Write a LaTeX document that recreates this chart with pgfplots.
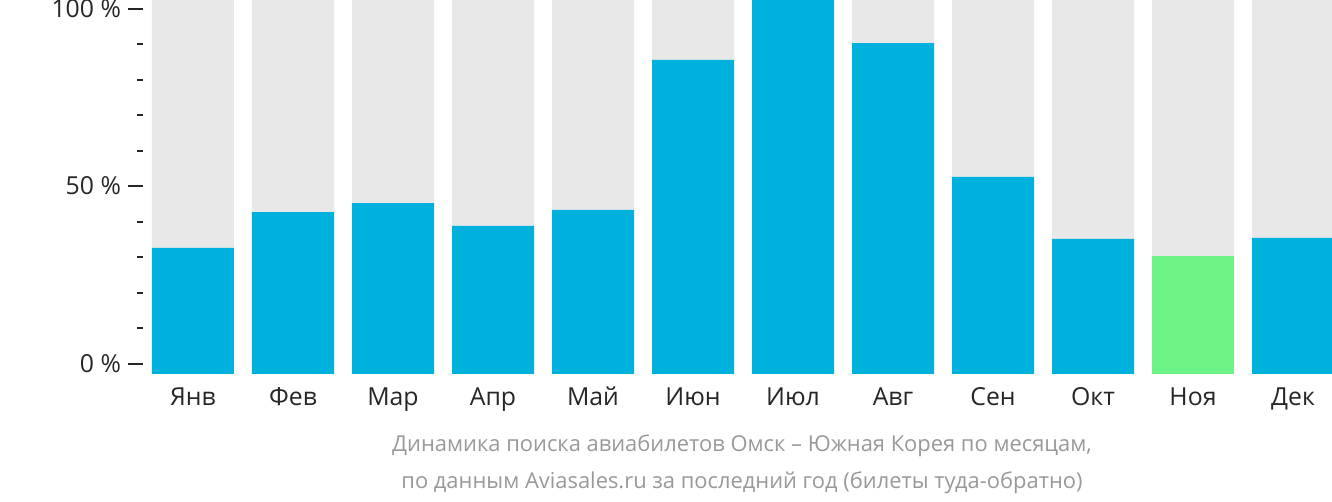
\documentclass[border=0pt]{standalone}
\usepackage{pgfplots}
\pgfplotsset{compat=1.18}
\usepackage{fontspec}
\setmainfont{Open Sans}
\definecolor{barblue}{HTML}{00B1DD}
\definecolor{bargreen}{HTML}{6CF286}
\definecolor{bargrey}{HTML}{E8E8E8}
\definecolor{ticktext}{HTML}{262626}
\definecolor{captext}{HTML}{999999}
\begin{document}
\begin{tikzpicture}
\begin{axis}[
  at={(0,0)}, anchor=south west,
  scale only axis,
  width=590pt, height=187pt,
  xmin=-0.41, xmax=11.39,
  ymin=0, ymax=100,
  ybar, bar width=0.82, bar shift=0pt,
  axis line style={draw=none},
  xtick={0,1,2,3,4,5,6,7,8,9,10,11},
  xticklabels={Янв,Фев,Мар,Апр,Май,Июн,Июл,Авг,Сен,Окт,Ноя,Дек},
  x tick style={draw=none},
  major tick length=7.5pt,
  minor tick length=3pt,
  tick align=outside,
  y tick style={xshift=-4.5pt, line width=1pt, color=ticktext},
  ytick={2.8,50.25,97.7},
  yticklabels={0 \%,50 \%,100 \%},
  minor ytick={12.29,21.78,31.27,40.76,59.74,69.23,78.72,88.21},
  yticklabel style={xshift=-4.5pt},
  xticklabel style={yshift=4pt, text height=8.9pt, text depth=0pt},
  tick label style={font=\fontsize{12.4}{14}\selectfont, text=ticktext},
  /pgf/number format/assume math mode=true,
  clip=false,
]
\addplot[fill=bargrey, draw=none] coordinates {(0,100)(1,100)(2,100)(3,100)(4,100)(5,100)(6,100)(7,100)(8,100)(9,100)(10,100)(11,100)};
\addplot[fill=barblue, draw=none] coordinates {(0,33.7)(1,43.3)(2,45.7)(3,39.6)(4,43.9)(5,84.0)(6,100)(7,88.5)(8,52.7)(9,36.1)(11,36.4)};
\addplot[fill=bargreen, draw=none] coordinates {(10,31.6)};
\node[font=\fontsize{10.95}{18.5}\selectfont, text=captext, align=center, anchor=center] at (rel axis cs:0.5,0) [yshift=-45pt] {Динамика поиска авиабилетов Омск – Южная Корея по месяцам,\\по данным Aviasales.ru за последний год (билеты туда-обратно)};
\end{axis}
\pgfresetboundingbox
\path (-76pt,-64pt) rectangle (590pt,187pt);
\end{tikzpicture}
\end{document}
